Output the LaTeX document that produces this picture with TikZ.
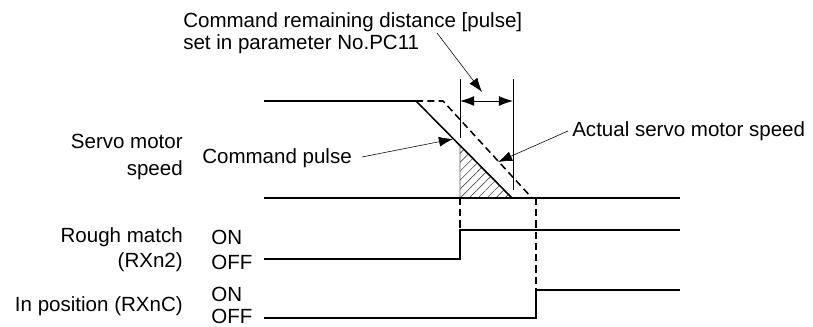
\documentclass[tikz,border=0pt]{standalone}
\usepackage{fontspec}
\setmainfont{Liberation Sans}
\usetikzlibrary{arrows.meta,positioning,calc,patterns.meta}

\begin{document}
\begin{tikzpicture}[
    x=0.025cm, y=-0.025cm,
    lbl/.style = {inner sep=0pt, font=\fontsize{14.6}{18}\selectfont},
    sig/.style = {line width=1.6pt},
    ramp/.style = {line width=1.1pt},
    guide/.style = {line width=1.1pt, dash pattern=on 5pt off 3pt},
    lead/.style = {line width=0.4pt, -{Latex[length=10pt,width=7pt]}},
    ext/.style = {line width=0.6pt}
]
\useasboundingbox (0,0) rectangle (813,327);

% speed profile
\coordinate (v0) at (264,101);
\coordinate (dec) at (416,101);
\coordinate (stop) at (512,198);
\coordinate (adec) at (443,101);
\coordinate (astop) at (532,198);
\coordinate (b0) at (264,198);
\coordinate (b1) at (680,198);
\coordinate (h0) at (460,145.5);
\coordinate (h1) at (460,198);

\filldraw[draw=gray!70!black, line width=0.6pt, pattern={Lines[angle=45,distance=4.5pt,line width=0.45pt]}, pattern color=gray!60!black] (h0) -- (h1) -- (stop) -- cycle;
\draw[ramp] (v0) -- (dec) -- (stop);
\draw[guide] (dec) -- (adec) -- (astop);
\draw[sig] (b0) -- (b1);

% remaining distance
\coordinate (e0t) at (460,79);
\coordinate (e0b) at (460,138);
\coordinate (e1t) at (513,79);
\coordinate (e1b) at (513,190);
\coordinate (d0) at (460,101);
\coordinate (d1) at (513,101);
\draw[ext] (e0t) -- (e0b);
\draw[ext] (e1t) -- (e1b);
\draw[ext, {Latex[length=10pt,width=7pt]}-{Latex[length=10pt,width=7pt]}] (d0) -- (d1);

% rough match / in position
\coordinate (r0) at (264,259);
\coordinate (r1) at (460,259);
\coordinate (r2) at (460,230);
\coordinate (r3) at (680,230);
\coordinate (i0) at (264,318);
\coordinate (i1) at (536,318);
\coordinate (i2) at (536,290);
\coordinate (i3) at (680,290);
\coordinate (i4) at (536,198);
\draw[sig] (r0) -- (r1) -- (r2) -- (r3);
\draw[sig] (i0) -- (i1) -- (i2) -- (i3);
\draw[guide] (h1) -- (r2);
\draw[guide] (i4) -- (i2);

% labels
\node[lbl, anchor=west, align=left, font=\fontsize{14.6}{16}\selectfont] (title) at (183,33) {Command remaining distance [pulse]\\set in parameter No.PC11};
\node[lbl, anchor=east, align=right, font=\fontsize{14.6}{19.2}\selectfont] (speed) at (183,156.5) {Servo motor\\speed};
\node[lbl, anchor=west] (cmd) at (202,158) {Command pulse};
\node[lbl, anchor=west] (act) at (572,131) {Actual servo motor speed};
\node[lbl, anchor=east, align=right] (rough) at (183,249.5) {Rough match\\(RXn2)};
\node[lbl, anchor=east] (inpos) at (183,306) {In position (RXnC)};
\node[lbl, anchor=west] (on1) at (211,237) {ON};
\node[lbl, anchor=west] (off1) at (211,262) {OFF};
\node[lbl, anchor=west] (on2) at (211,294) {ON};
\node[lbl, anchor=west] (off2) at (211,316) {OFF};

% leaders
\coordinate (ltop) at (437,33);
\coordinate (ltip) at (482,92);
\coordinate (cmdtip) at (453,139);
\coordinate (acttip) at (498,162);
\draw[lead] (ltop) -- (ltip);
\draw[lead] (cmd.east) ++(10,-1) -- (cmdtip);
\draw[lead] (act.west) ++(-4,0) -- (acttip);
\end{tikzpicture}
\end{document}
